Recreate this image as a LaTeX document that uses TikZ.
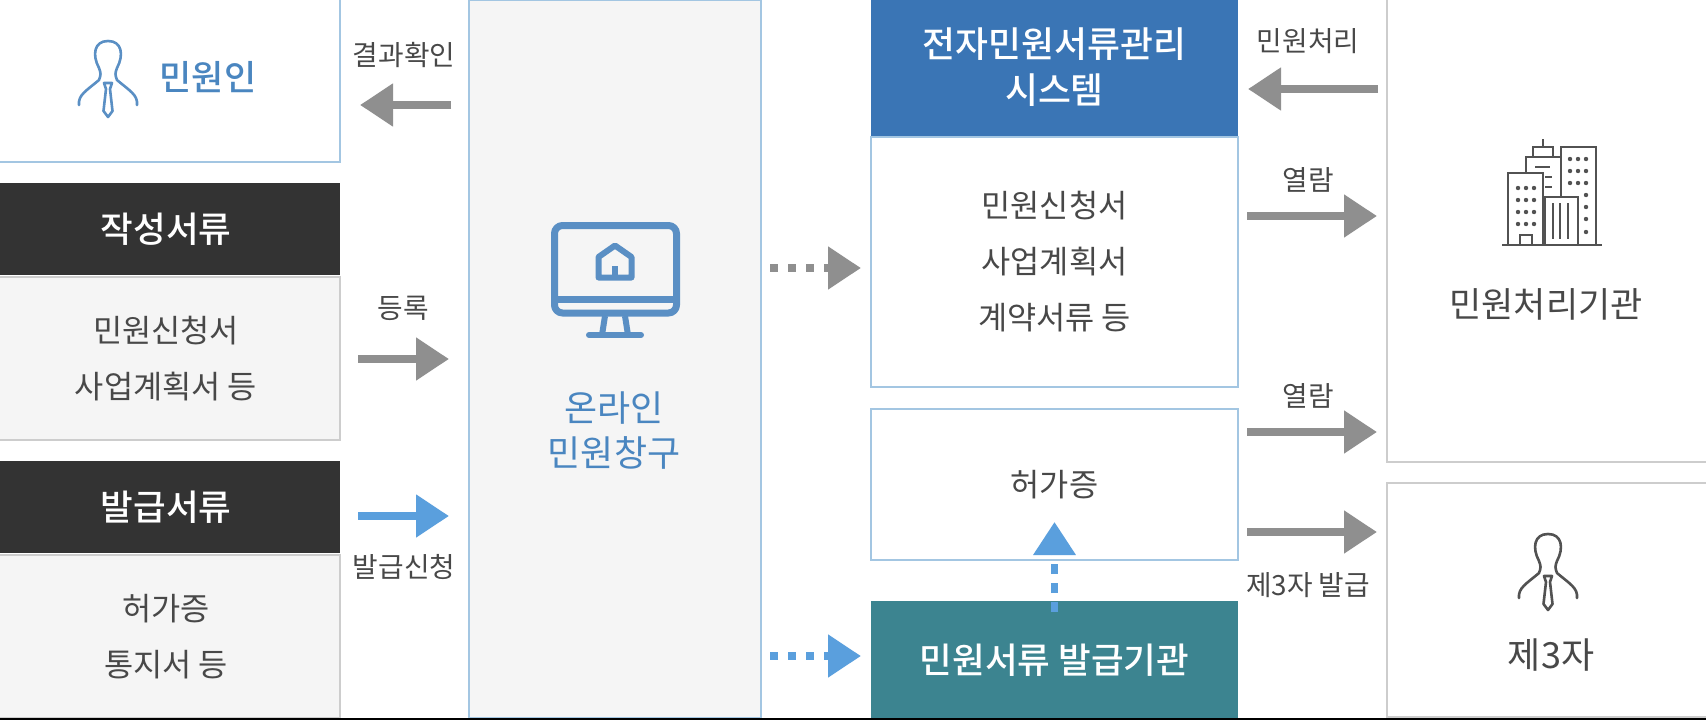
\documentclass[tikz,border=0pt]{standalone}
\usepackage{fontspec}
\setmainfont{Noto Sans CJK KR}
\newfontfamily\krmedium{Noto Sans CJK KR Medium}
\usetikzlibrary{arrows.meta, positioning}
\definecolor{sysblue}{HTML}{3A75B5}
\definecolor{sysline}{HTML}{A3C6E2}
\definecolor{teal}{HTML}{3C8490}
\definecolor{darkbar}{HTML}{333333}
\definecolor{softgray}{HTML}{F5F5F5}
\definecolor{boxgray}{HTML}{CDCDCD}
\definecolor{arrowgray}{HTML}{8F8F8F}
\definecolor{arrowblue}{HTML}{5A9FDD}
\definecolor{textgray}{HTML}{484848}
\definecolor{textblue}{HTML}{4A86C0}
\definecolor{iconblue}{HTML}{5A8FC4}
\tikzstyle{box} = [inner sep=0pt, outer sep=0pt, align=center, text=textgray, font=\fontsize{31.7}{56}\selectfont]
\tikzstyle{leftbox} = [box, minimum width=348pt]
\tikzstyle{midbox} = [box, minimum width=367pt]
\tikzstyle{bluebox} = [draw=sysline, line width=1.5pt, fill=white]
\tikzstyle{graybox} = [draw=boxgray, line width=1.5pt]
\tikzstyle{darkhead} = [leftbox, fill=darkbar, minimum height=92pt, text=white, font=\fontsize{35.5}{40}\selectfont\krmedium]
\tikzstyle{tag} = [inner sep=0pt, outer sep=0pt, text=textgray, font=\fontsize{27.8}{30}\selectfont]
\tikzstyle{arrow} = [line width=8pt, arrowgray, -{Triangle[length=33pt, width=41pt]}]
\tikzstyle{bluearrow} = [arrow, arrowblue]
\tikzstyle{dots} = [dash pattern=on 8pt off 10pt]
\tikzstyle{leftgap} = [shorten <=18pt, shorten >=20pt]
\tikzstyle{rightgap} = [shorten <=9pt, shorten >=10pt]
\tikzset{
    person/.pic={
        \draw[line cap=round, line join=round, line width=2.6pt]
            (-29,64) .. controls (-30,54) and (-22,50) .. (-9,39)
            .. controls (-7,34) and (-7,32) .. (-9,27)
            .. controls (-16,14) and (-14,0) .. (0,0)
            .. controls (14,0) and (16,14) .. (9,27)
            .. controls (7,32) and (7,34) .. (9,39)
            .. controls (22,50) and (30,54) .. (29,64);
        \draw[line join=round, line width=2.6pt]
            (-4,42) -- (4,42) -- (2,48) -- (4.5,70) -- (0,76) -- (-4.5,70) -- (-2,48) -- cycle;
    }
}

\begin{document}
\begin{tikzpicture}[x=1pt, y=-1pt]

    \useasboundingbox (0,0) rectangle (1706,720);

    % Left column
    \node[leftbox, bluebox, minimum height=164pt] (applicant) at (166,80) {};
    \node[darkhead] (writtenhead) at (166,229) {작성서류};
    \node[leftbox, graybox, fill=softgray, minimum height=163pt] (writtenbox) at (166,358.5) {민원신청서\\사업계획서 등};
    \node[darkhead] (issuedhead) at (166,507) {발급서류};
    \node[leftbox, graybox, fill=softgray, minimum height=163pt] (issuedbox) at (166,636.5) {허가증\\통지서 등};

    % Center column
    \node[box, bluebox, fill=softgray, minimum width=292pt, minimum height=718pt] (portal) at (615,359) {};

    % Document column
    \node[midbox, fill=sysblue, minimum height=137pt, text=white, font=\fontsize{35.8}{45.5}\selectfont\krmedium] (system) at (1054.5,67) {전자민원서류관리\\시스템};
    \node[midbox, bluebox, minimum height=250pt] (documents) at (1054.5,262) {민원신청서\\사업계획서\\계약서류 등};
    \node[midbox, bluebox, minimum height=151pt] (permit) at (1054.5,484.5) {허가증};
    \node[midbox, fill=teal, minimum height=119pt, text=white, font=\fontsize{35.5}{40}\selectfont\krmedium] (issuer) at (1054.5,660.5) {민원서류 발급기관};

    % Right column
    \node[box, graybox, fill=white, minimum width=330pt, minimum height=464pt] (agency) at (1552,230) {};
    \node[box, graybox, fill=white, minimum width=330pt, minimum height=234pt] (third) at (1552,600) {};

    % Box titles
    \node[box, text=textblue, font=\fontsize{35}{40}\selectfont\krmedium] (applicantname) at (208,77) {민원인};
    \node[box, text=textblue, font=\fontsize{36}{45}\selectfont] (portalname) at (614,431) {온라인\\민원창구};
    \node[box, font=\fontsize{35}{40}\selectfont] (agencyname) at (1546,304) {민원처리기관};
    \node[box, font=\fontsize{36}{40}\selectfont] (thirdname) at (1551,655) {제3자};

    % Arrow rows
    \coordinate (ResultRow) at (0,105);
    \coordinate (RegisterRow) at (0,359);
    \coordinate (RequestRow) at (0,516);
    \coordinate (DocumentRow) at (0,268);
    \coordinate (IssuerRow) at (0,656);
    \coordinate (ProcessRow) at (0,89);
    \coordinate (ViewRow) at (0,216);
    \coordinate (PermitRow) at (0,432);
    \coordinate (ThirdRow) at (0,532);

    % Arrows
    \draw[arrow, leftgap] (portal.west |- ResultRow) -- (applicant.east |- ResultRow);
    \draw[arrow, leftgap] (writtenbox.east |- RegisterRow) -- (portal.west |- RegisterRow);
    \draw[bluearrow, leftgap] (issuedhead.east |- RequestRow) -- (portal.west |- RequestRow);
    \draw[arrow, dots, rightgap] (portal.east |- DocumentRow) -- (documents.west |- DocumentRow);
    \draw[bluearrow, dots, rightgap] (portal.east |- IssuerRow) -- (issuer.west |- IssuerRow);
    \draw[arrow, rightgap] (agency.west |- ProcessRow) -- (system.east |- ProcessRow);
    \draw[arrow, rightgap] (documents.east |- ViewRow) -- (agency.west |- ViewRow);
    \draw[arrow, rightgap] (permit.east |- PermitRow) -- (agency.west |- PermitRow);
    \draw[arrow, rightgap] (permit.east |- ThirdRow) -- (third.west |- ThirdRow);
    \draw[bluearrow, line width=7pt, dash pattern=on 10pt off 9pt, shorten <=-11pt, shorten >=-38pt] (issuer.north) -- (permit.south);

    % Arrow labels
    \node[tag] (resultlabel) at (404,55) {결과확인};
    \node[tag] (registerlabel) at (403,308) {등록};
    \node[tag] (requestlabel) at (404,567) {발급신청};
    \node[tag] (processlabel) at (1308,41) {민원처리};
    \node[tag] (viewlabel) at (1308,180) {열람};
    \node[tag] (permitlabel) at (1308,396) {열람};
    \node[tag] (thirdlabel) at (1308,585) {제3자 발급};

    % Person icons
    \pic[iconblue] at (108,41) {person};
    \pic[darkbar!85] at (1548,534) {person};

    % Monitor icon
    \begin{scope}[iconblue, line width=7pt, line join=round]
        \draw[rounded corners=8pt] (554.5,225.5) rectangle (676.5,313);
        \draw (554,299) -- (677,299);
        \draw[line width=6pt] (605,316) -- (602,335);
        \draw[line width=6pt] (625,316) -- (628,335);
        \draw[line width=6pt, line cap=round] (589,335) -- (641,335);
        \draw[line width=6pt] (598.5,257) -- (615,245.5) -- (631.5,257) -- (631.5,277.5) -- (598.5,277.5) -- cycle;
        \fill (612,266) rectangle (618,278);
    \end{scope}

    % Building icon
    \begin{scope}[draw=darkbar!85, fill=darkbar!85, line width=2.6pt]
        \draw (1502,245) -- (1602,245);
        \draw (1508,245) -- (1508,173) -- (1543,173) -- (1543,245);
        \draw (1526,173) -- (1526,157) -- (1560,157);
        \draw (1533,157) -- (1533,147) -- (1553,147) -- (1553,157);
        \draw (1543,139) -- (1543,147);
        \draw (1561,197) -- (1561,147) -- (1596,147) -- (1596,245);
        \draw (1545,245) -- (1545,197) -- (1578,197) -- (1578,245);
        \draw (1520,245) -- (1520,235) -- (1532,235) -- (1532,245);
        \foreach \stripe in {1553,1560,1568}
            \draw (\stripe,203) -- (\stripe,239);
        \draw (1535,167) -- (1550,167);
        \draw (1545,177) -- (1552,177);
        \draw (1545,187) -- (1552,187);
        \foreach \row in {188,200,212,224}
            \foreach \col in {1518,1526,1534}
                \fill (\col,\row) circle (2.2pt);
        \foreach \row in {159,171,183}
            \foreach \col in {1570,1578,1586}
                \fill (\col,\row) circle (2.2pt);
        \foreach \row in {195,207,219,232}
            \fill (1586,\row) circle (2.2pt);
    \end{scope}

    % Bottom edge
    \draw[black, line width=3pt] (0,719.5) -- (1706,719.5);

\end{tikzpicture}
\end{document}
